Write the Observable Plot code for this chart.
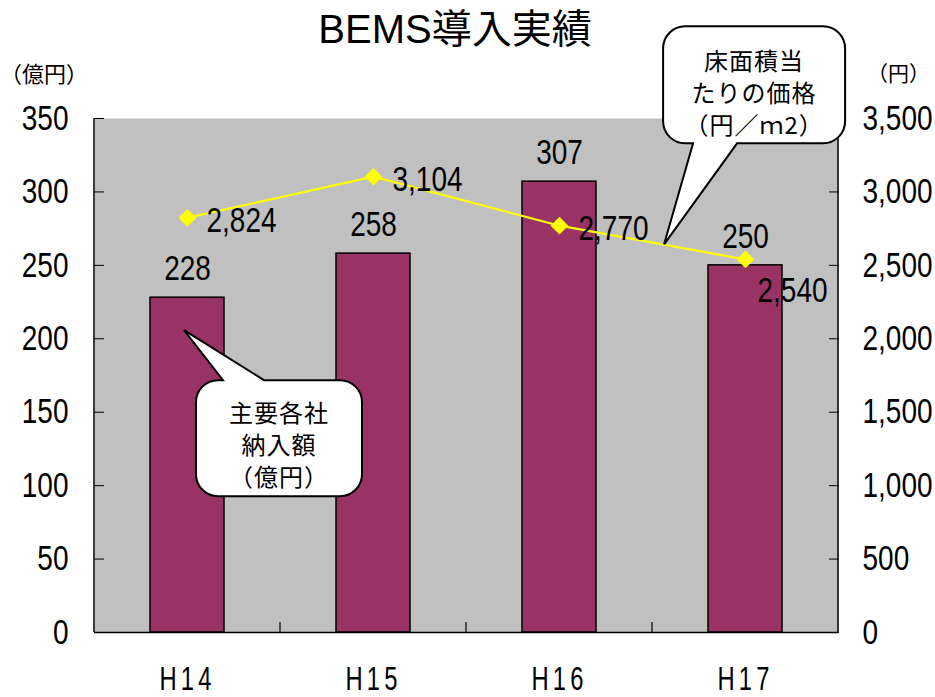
<!DOCTYPE html>
<html><head><meta charset="utf-8">
<script src="https://cdn.jsdelivr.net/npm/d3@7"></script>
<script src="https://cdn.jsdelivr.net/npm/@observablehq/plot@0.6"></script>
<style>
body{margin:0;background:#fff;}
#chart svg{display:block;}
</style></head><body>
<div id="chart"></div>
<script>
// ---- data ----
const title = "BEMS導入実績";
const categories = ["H14","H15","H16","H17"];
const sales = [228, 258, 307, 250];          // 億円 (left axis)
const prices = [2824, 3104, 2770, 2540];     // 円/m2 (right axis)
const leftTicks = [0, 50, 100, 150, 200, 250, 300, 350];
const rightTicks = [0, 500, 1000, 1500, 2000, 2500, 3000, 3500];
const leftUnit = "（億円）";
const rightUnit = "（円）";
const barNote = ["主要各社", "納入額", "（億円）"];
const lineNote = ["床面積当", "たりの価格", "（円／ｍ2）"];

const SANS = "'Liberation Sans','Noto Sans CJK JP',sans-serif";
const CJK = "'Noto Sans CJK JP','Liberation Sans',sans-serif";
const fmt = d3.format(",");
const ratio = 10; // right axis = left axis * 10
const NUM = 35;   // number font size

const data = categories.map((c, i) => ({cat: c, sales: sales[i], price: prices[i]}));

const chart = Plot.plot({
  width: 935, height: 697,
  marginTop: 118, marginBottom: 65, marginLeft: 94, marginRight: 97,
  style: {fontFamily: SANS, background: "transparent", color: "#000", overflow: "visible"},
  x: {domain: categories, paddingInner: 0.6, paddingOuter: 0.3, axis: null},
  y: {domain: [0, 350], axis: null},
  marks: [
    Plot.frame({fill: "#c0c0c0", stroke: "none"}),
    Plot.barY(data, {x: "cat", y: "sales", fill: "#993366", stroke: "#000", strokeWidth: 1.5}),
    Plot.text(data, {x: "cat", y: "sales", text: d => String(d.sales), dy: -29, fontSize: NUM, fill: "#000"}),
    Plot.line(data, {x: "cat", y: d => d.price / ratio, stroke: "#ffff00", strokeWidth: 2.2}),
    Plot.dot(data, {x: "cat", y: d => d.price / ratio, symbol: "diamond2", r: 8, fill: "#ffff00", stroke: "none"}),
    Plot.text(data.slice(0, 3), {x: "cat", y: d => d.price / ratio, text: d => fmt(d.price), textAnchor: "start", dx: 19, dy: 3, fontSize: NUM, fill: "#000"}),
    Plot.text(data.slice(3), {x: "cat", y: d => d.price / ratio, text: d => fmt(d.price), textAnchor: "start", dx: 12, dy: 31, fontSize: NUM, fill: "#000"}),
    Plot.axisY({anchor: "left", ticks: leftTicks, tickSize: 10, dx: 10, tickPadding: 26, fontSize: NUM, label: null, stroke: "#000"}),
    Plot.axisY({anchor: "right", ticks: rightTicks.map(v => v / ratio), tickFormat: d => fmt(d * ratio), tickSize: 10, dx: -10, tickPadding: 24, fontSize: NUM, label: null, stroke: "#000"}),
    Plot.axisX({anchor: "bottom", tickSize: 0, tickPadding: 33, fontSize: 34, label: null}),
    Plot.ruleY([0], {stroke: "#000", strokeWidth: 1.5})
  ]
});
document.getElementById("chart").appendChild(chart);

const svg = d3.select(chart);

// narrow look: compress glyphs horizontally, keeping each text's anchor point in place
function squeeze(sel, k) {
  sel.each(function () {
    const xa = this.getAttribute("x");
    let x0 = 0;
    if (xa != null) {
      x0 = parseFloat(xa) || 0;
      if (/em$/.test(xa)) x0 *= parseFloat(getComputedStyle(this).fontSize);
    }
    const t = this.getAttribute("transform") || "";
    this.setAttribute("transform", `${t} translate(${x0 * (1 - k)},0) scale(${k},1)`);
  });
}
squeeze(svg.selectAll('[aria-label="text"] text, [aria-label="y-axis tick label"] text'), 0.8);
const xl = svg.selectAll('[aria-label="x-axis tick label"] text').attr("letter-spacing", 6);
squeeze(xl, 0.7);

// ---- overlays computed from the plot's scales ----
const xs = chart.scale("x"), ys = chart.scale("y");
const [L, R] = xs.range;
const B = ys.apply(0), T = ys.apply(350);
const step = (R - L) / categories.length;
const bw = xs.bandwidth;
const cx = c => xs.apply(c) + bw / 2;

// axis lines (left/right), category boundary ticks
const g = svg.append("g").attr("stroke", "#000");
g.append("line").attr("x1", L).attr("x2", L).attr("y1", T).attr("y2", B).attr("stroke-width", 1.5);
g.append("line").attr("x1", R).attr("x2", R).attr("y1", T).attr("y2", B).attr("stroke-width", 1.5);
for (let i = 1; i < categories.length; i++) {
  const x = L + step * i;
  g.append("line").attr("x1", x).attr("x2", x).attr("y1", B).attr("y2", B - 10).attr("stroke-width", 1.2);
}

// title & units
svg.append("text").attr("x", 455).attr("y", 43).attr("text-anchor", "middle")
  .attr("font-family", SANS).attr("font-size", 40).attr("fill", "#000").text(title);
svg.append("text").attr("x", 0).attr("y", 82).attr("text-anchor", "start").attr("font-family", CJK).attr("font-size", 22).attr("fill", "#000").text(leftUnit);
svg.append("text").attr("x", 867).attr("y", 81).attr("text-anchor", "start").attr("font-family", CJK).attr("font-size", 21).attr("fill", "#000").text(rightUnit);

// speech bubbles
function bubble(x0, y0, x1, y1, r, tip, base, onTop) {
  const [bx1, bx2] = base;
  let p = `M${x0 + r},${y0}`;
  if (onTop) p += `L${bx1},${y0}L${tip[0]},${tip[1]}L${bx2},${y0}`;
  p += `L${x1 - r},${y0}A${r},${r} 0 0 1 ${x1},${y0 + r}L${x1},${y1 - r}A${r},${r} 0 0 1 ${x1 - r},${y1}`;
  if (!onTop) p += `L${bx2},${y1}L${tip[0]},${tip[1]}L${bx1},${y1}`;
  p += `L${x0 + r},${y1}A${r},${r} 0 0 1 ${x0},${y1 - r}L${x0},${y0 + r}A${r},${r} 0 0 1 ${x0 + r},${y0}Z`;
  svg.append("path").attr("d", p).attr("fill", "#fff").attr("stroke", "#000").attr("stroke-width", 2);
}
function lines(cxm, cy0, gap, arr) {
  arr.forEach((s, i) => svg.append("text").attr("x", cxm).attr("y", cy0 + i * gap).attr("dy", "0.35em")
    .attr("text-anchor", "middle").attr("font-family", CJK).attr("font-size", 24).attr("letter-spacing", 1)
    .attr("fill", "#000").text(s));
}

// bubble 1 -> points into the H14 bar
{
  const tx = cx(categories[0]) - 3, ty = ys.apply(sales[0]) + 33;
  const x0 = tx + 12, x1 = tx + 178, y0 = ty + 50, y1 = ty + 166;
  bubble(x0, y0, x1, y1, 22, [tx, ty], [tx + 39, tx + 80], true);
  lines((x0 + x1) / 2, y0 + 33, 32, barNote);
}
// bubble 2 -> points onto the price line between H16 and H17
{
  const ax = cx(categories[2]), ay = ys.apply(prices[2] / ratio);
  const bx = cx(categories[3]), by = ys.apply(prices[3] / ratio);
  const f = 0.565;
  const tx = ax + (bx - ax) * f, ty = ay + (by - ay) * f;
  const x0 = tx - 1, x1 = tx + 181, y0 = ty - 218, y1 = ty - 101;
  bubble(x0, y0, x1, y1, 22, [tx, ty], [tx + 29, tx + 73], false);
  lines((x0 + x1) / 2, y0 + 35, 32, lineNote);
}
</script>
</body></html>
